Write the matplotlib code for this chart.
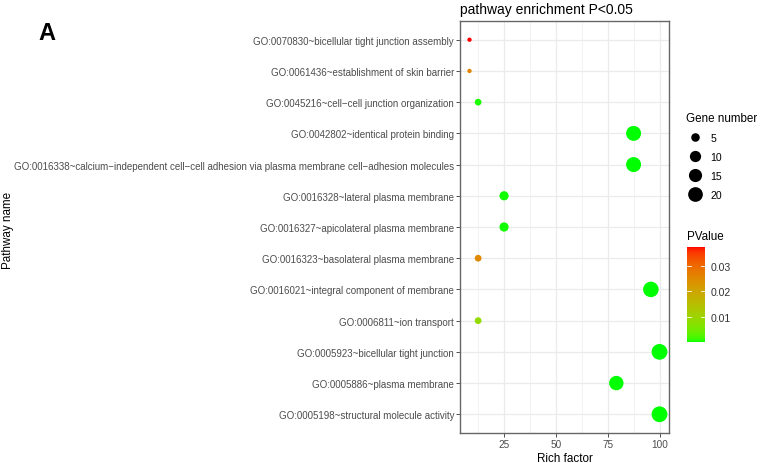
import numpy as np
import matplotlib
matplotlib.use("Agg")
import matplotlib.pyplot as plt
from matplotlib.colors import ListedColormap, Normalize
from matplotlib.lines import Line2D

plt.rcParams['font.family'] = ['Liberation Sans', 'DejaVu Sans']

# data, top to bottom as in the picture
pathways = [
    "GO:0070830~bicellular tight junction assembly",
    "GO:0061436~establishment of skin barrier",
    "GO:0045216~cell\u2212cell junction organization",
    "GO:0042802~identical protein binding",
    "GO:0016338~calcium\u2212independent cell\u2212cell adhesion via plasma membrane cell\u2212adhesion molecules",
    "GO:0016328~lateral plasma membrane",
    "GO:0016327~apicolateral plasma membrane",
    "GO:0016323~basolateral plasma membrane",
    "GO:0016021~integral component of membrane",
    "GO:0006811~ion transport",
    "GO:0005923~bicellular tight junction",
    "GO:0005886~plasma membrane",
    "GO:0005198~structural molecule activity",
]
gene_number = [2, 2, 3, 21, 21, 6, 6, 3, 23, 3, 24, 19, 24]
rich_factor = [8.33, 8.33, 12.5, 87.5, 87.5, 25.0, 25.0, 12.5, 95.83, 12.5, 100.0, 79.17, 100.0]
p_value = [0.0375, 0.026, 0.0004, 0.00001, 0.00001, 0.0003, 0.0003, 0.025, 0.00001, 0.0085, 0.00001, 0.00002, 0.00001]
size_breaks = [5, 10, 15, 20]
p_breaks = [0.01, 0.02, 0.03]


# green -> red gradient interpolated in Lab space, like ggplot
def srgb_to_lab(rgb):
    c = np.asarray(rgb, float)
    c = np.where(c > 0.04045, ((c + 0.055) / 1.055) ** 2.4, c / 12.92)
    m = np.array([[0.4124, 0.3576, 0.1805], [0.2126, 0.7152, 0.0722], [0.0193, 0.1192, 0.9505]])
    xyz = m @ c / np.array([0.95047, 1.0, 1.08883])
    f = np.where(xyz > 0.008856, np.cbrt(xyz), 7.787 * xyz + 16 / 116)
    return np.array([116 * f[1] - 16, 500 * (f[0] - f[1]), 200 * (f[1] - f[2])])


def lab_to_srgb(lab):
    L, a, b = lab
    fy = (L + 16) / 116
    fx = fy + a / 500
    fz = fy - b / 200
    f = np.array([fx, fy, fz])
    xyz = np.where(f ** 3 > 0.008856, f ** 3, (f - 16 / 116) / 7.787) * np.array([0.95047, 1.0, 1.08883])
    m = np.array([[3.2406, -1.5372, -0.4986], [-0.9689, 1.8758, 0.0415], [0.0557, -0.2040, 1.0570]])
    c = m @ xyz
    c = np.where(c > 0.0031308, 1.055 * np.abs(c) ** (1 / 2.4) - 0.055, 12.92 * c)
    return np.clip(c, 0, 1)


lab_lo = srgb_to_lab([0, 1, 0])
lab_hi = srgb_to_lab([1, 0, 0])
cmap = ListedColormap([lab_to_srgb(lab_lo + t * (lab_hi - lab_lo)) for t in np.linspace(0, 1, 256)])
norm = Normalize(vmin=min(p_value), vmax=max(p_value))

gmin, gmax = min(gene_number), max(gene_number)


def dot_px(g):
    # ggplot scale_size area mapping, size range 1..6
    size = 1 + 5 * np.sqrt((g - gmin) / (gmax - gmin))
    return 2.3 * size + 2.0


W, H = 761, 464
fig = plt.figure(figsize=(W / 100, H / 100), dpi=100)
ax = fig.add_axes([460 / W, 30 / H, 209 / W, 412 / H])

n = len(pathways)
ypos = np.arange(n, 0, -1)
sizes = [(dot_px(g) * 0.72) ** 2 for g in gene_number]
ax.scatter(rich_factor, ypos, s=sizes, c=p_value, cmap=cmap, norm=norm, linewidths=0, zorder=3)

span = max(rich_factor) - min(rich_factor)
ax.set_xlim(min(rich_factor) - 0.05 * span, max(rich_factor) + 0.05 * span)
ax.set_ylim(0.4, n + 0.6)
ax.set_xticks([25, 50, 75, 100])
ax.set_xticks([12.5, 37.5, 62.5, 87.5], minor=True)
ax.set_yticks(ypos)
ax.set_yticklabels(pathways)
ax.tick_params(axis='both', which='major', labelsize=7.0, labelcolor='#4D4D4D', color='#333333',
               length=2.8, width=0.6, pad=1.5)
ax.tick_params(axis='x', which='major', labelsize=7.2)
ax.tick_params(axis='x', which='minor', length=0)
ax.grid(True, which='major', color='#EBEBEB', linewidth=0.9, zorder=0)
ax.grid(True, which='minor', axis='x', color='#EBEBEB', linewidth=0.45, zorder=0)
ax.set_axisbelow(True)
for sp in ax.spines.values():
    sp.set_color('#666666')
    sp.set_linewidth(1.0)

ax.set_xlabel("Rich factor", fontsize=8.4, labelpad=2)
fig.text(8 / W, 1 - 230 / H, "Pathway name", rotation=90, fontsize=8.4, ha='center', va='center')
fig.text(460 / W, 1 - 10 / H, "pathway enrichment P<0.05", fontsize=10, ha='left', va='center')
fig.text(38 / W, 1 - 33 / H, "A", fontsize=17, fontweight='bold', ha='left', va='center')

# size legend
handles = [Line2D([], [], linestyle='none', marker='o', color='black', markeredgewidth=0,
                  markersize=dot_px(g) * 0.72) for g in size_breaks]
leg = fig.legend(handles, [str(g) for g in size_breaks], title="Gene number",
                 loc='upper left', bbox_to_anchor=(684 / W, 1 - 111 / H), frameon=False,
                 fontsize=7.6, title_fontsize=8.4, labelspacing=0.85, handletextpad=0.7,
                 handlelength=1.6, borderaxespad=0, borderpad=0.2)
leg._legend_box.align = 'left'

# colour bar
cax = fig.add_axes([687 / W, 1 - 343 / H, 18 / W, 95 / H])
sm = plt.cm.ScalarMappable(norm=norm, cmap=cmap)
cb = fig.colorbar(sm, cax=cax, ticks=p_breaks)
cb.outline.set_visible(False)
cb.ax.tick_params(labelsize=7.6, labelcolor='#333333', length=0, pad=4)
for pb in p_breaks:
    cax.plot([0, 0.2], [pb, pb], color='white', lw=0.6)
    cax.plot([0.8, 1], [pb, pb], color='white', lw=0.6)
cax.set_xlim(0, 1)
fig.text(687 / W, 1 - 237 / H, "PValue", fontsize=8.4, ha='left', va='center')

fig.savefig("out.png", dpi=100)
